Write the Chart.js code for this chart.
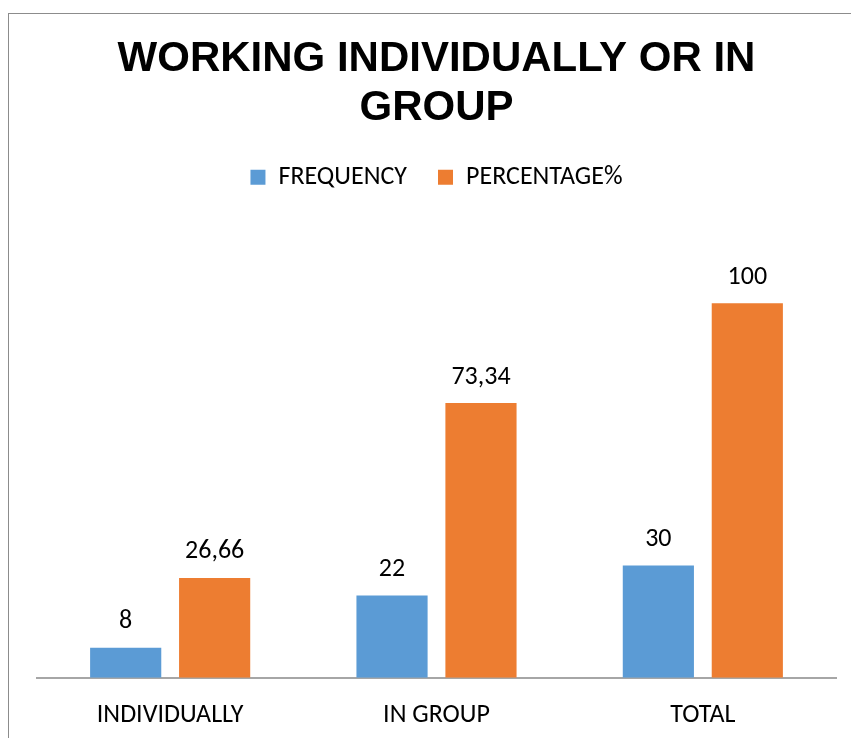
<!DOCTYPE html>
<html>
<head>
<meta charset="utf-8">
<title>Working individually or in group</title>
<script src="https://cdn.jsdelivr.net/npm/chart.js@4.4.1/dist/chart.umd.min.js"></script>
<style>
  html, body { margin: 0; padding: 0; background: #fff; }
  #wrap { width: 851px; height: 738px; }
</style>
</head>
<body>
<div id="wrap"><canvas id="myChart" width="851" height="738"></canvas></div>
<script>
const categories = ['INDIVIDUALLY', 'IN GROUP', 'TOTAL'];
const frequency = [8, 22, 30];
const percentage = [26.66, 73.34, 100];
const seriesNames = ['FREQUENCY', 'PERCENTAGE%'];

const textFont = 'Carlito, Lato, sans-serif';

// frame line around the chart (runs off the right/bottom edge)
const frame = {
    id: 'frame',
    beforeDraw(chart) {
        const c = chart.ctx;
        c.save();
        c.strokeStyle = '#8c8c8c';
        c.lineWidth = 1;
        c.strokeRect(8.5, 13.5, 1000, 1000);
        c.restore();
    }
};

// extra room under the legend
const legendGap = {
    id: 'legendGap',
    beforeInit(chart) {
        const fit = chart.legend.fit;
        chart.legend.fit = function () {
            fit.bind(chart.legend)();
            this.height += 28;
        };
    }
};

// value labels above the bars, decimal comma
const valueLabels = {
    id: 'valueLabels',
    afterDatasetsDraw(chart) {
        const c = chart.ctx;
        c.save();
        c.font = '26px ' + textFont;
        c.fillStyle = '#000';
        c.textAlign = 'center';
        c.textBaseline = 'bottom';
        chart.data.datasets.forEach(function (ds, i) {
            chart.getDatasetMeta(i).data.forEach(function (bar, j) {
                const txt = String(ds.data[j]).replace('.', ',');
                c.fillText(txt, bar.x, bar.y - 13);
            });
        });
        c.restore();
    }
};

const ctx = document.getElementById('myChart').getContext('2d');
const myChart = new Chart(ctx, {
    type: 'bar',
    data: {
        labels: categories,
        datasets: [{
            label: seriesNames[0],
            data: frequency,
            backgroundColor: '#5B9BD5',
            categoryPercentage: 0.668,
            barPercentage: 0.8
        }, {
            label: seriesNames[1],
            data: percentage,
            backgroundColor: '#ED7D31',
            categoryPercentage: 0.668,
            barPercentage: 0.8
        }]
    },
    options: {
        responsive: false,
        animation: false,
        layout: {
            padding: { left: 37, right: 15, top: 35, bottom: -7 }
        },
        plugins: {
            title: {
                display: true,
                text: ['WORKING INDIVIDUALLY OR IN', 'GROUP'],
                color: '#000',
                font: { family: '"Liberation Sans", Arial, sans-serif', size: 42, weight: 'bold', lineHeight: 1.17 },
                padding: { top: 0, bottom: 0 }
            },
            legend: {
                position: 'top',
                labels: {
                    color: '#000',
                    font: { family: textFont, size: 26 },
                    boxWidth: 15,
                    boxHeight: 15,
                    padding: 31
                }
            },
            tooltip: { enabled: false }
        },
        scales: {
            x: {
                grid: { display: false },
                border: { display: true, color: '#a6a6a6', width: 2 },
                ticks: { color: '#000', font: { family: textFont, size: 26 }, padding: 14 }
            },
            y: {
                display: false,
                min: 0,
                max: 120
            }
        }
    },
    plugins: [frame, legendGap, valueLabels]
});
</script>
</body>
</html>
